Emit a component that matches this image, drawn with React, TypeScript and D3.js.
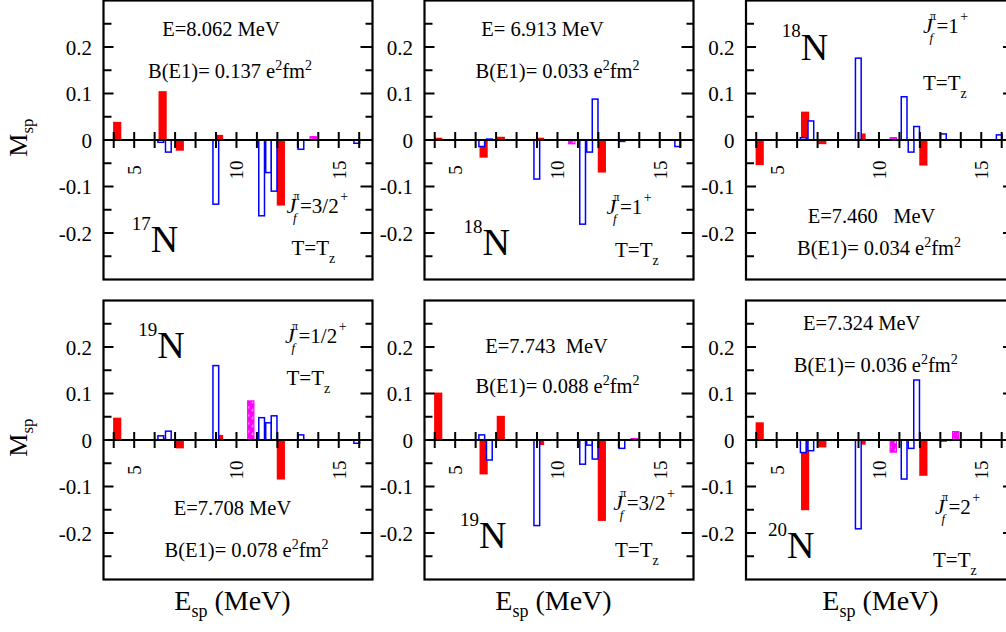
import React from 'react';
import * as d3 from 'd3';

// ---- data ----
// energies (MeV) of single-particle transitions, by colour group
const redE = [4.17, 6.39, 7.23, 9.15, 12.17];
const blueE = [6.3, 6.67, 8.99, 11.23, 11.57, 11.84, 13.15, 15.88];
const magE = [10.7, 13.75];

// M_sp values per panel
const n17Red = [0.039, 0.105, -0.023, 0.011, -0.141];
const n17Blue = [-0.005, -0.026, -0.138, -0.163, -0.07, -0.11, -0.02, -0.007];
const n17Mag = [0, 0.007];

const n18aRed = [0.005, -0.038, 0.007, 0.005, -0.07];
const n18aBlue = [-0.014, 0.002, -0.084, -0.181, -0.026, 0.088, -0.003, -0.014];
const n18aMag = [-0.008, 0];

const n18bRed = [-0.054, 0.061, -0.009, 0.014, -0.055];
const n18bBlue = [0.005, 0.041, 0.176, 0.093, -0.026, 0.029, 0.013, 0.011];
const n18bMag = [0.005, 0];

const n19aRed = [0.048, 0.004, -0.018, 0.011, -0.085];
const n19aBlue = [0.009, 0.019, 0.16, 0.048, 0.037, 0.052, 0.011, -0.007];
const n19aMag = [0.084, 0];

const n19bRed = [0.102, -0.074, 0.052, -0.011, -0.174];
const n19bBlue = [0.011, -0.043, -0.184, -0.052, -0.011, -0.041, -0.018, 0];
const n19bMag = [0, 0.003];

const n20Red = [0.038, -0.151, -0.016, -0.01, -0.077];
const n20Blue = [-0.027, -0.023, -0.191, -0.084, -0.018, 0.129, -0.002, 0];
const n20Mag = [-0.026, 0.018];

const stateEnergy = ['E=8.062 MeV', 'E= 6.913 MeV', 'E=7.460   MeV', 'E=7.708 MeV', 'E=7.743  MeV', 'E=7.324 MeV'];
const bE1 = ['0.137', '0.033', '0.034', '0.078', '0.088', '0.036'];
const massNumber = ['17', '18', '18', '19', '19', '20'];
const finalSpin = ['3/2', '1', '1', '1/2', '3/2', '2'];

const yTickLabels = [-0.2, -0.1, 0, 0.1, 0.2];
const xTickLabels = [5, 10, 15];

// ---- tables built from the arrays ----
const reds = [n17Red, n18aRed, n18bRed, n19aRed, n19bRed, n20Red];
const blues = [n17Blue, n18aBlue, n18bBlue, n19aBlue, n19bBlue, n20Blue];
const mags = [n17Mag, n18aMag, n18bMag, n19aMag, n19bMag, n20Mag];

// ---- layout ----
const W = 269;
const H = 279;
const origins: [number, number][] = [
  [103.5, 0.5], [424.5, 0.5], [746, 0.5],
  [103.5, 300.5], [424.5, 300.5], [746, 300.5],
];
const annot = [
  { e: [117.5, 35.5], b: [126.5, 77], nuc: [28.2, 251.2, 21.7], j: [183, 212.5], t: [188, 254.5] },
  { e: [118, 35.5], b: [133, 77.5], nuc: [39, 254.5, 21.7], j: [182, 213.5], t: [190.5, 256] },
  { e: [125.5, 222.5], b: [133, 254.5], nuc: [35.7, 59.5, 23], j: [177, 32.5], t: [177, 89.5] },
  { e: [129, 214.5], b: [143, 256], nuc: [34.8, 57.8, 22], j: [181.5, 42.8], t: [183, 84.5] },
  { e: [122, 52.8], b: [133, 92.8], nuc: [35.5, 247.8, 22], j: [188.8, 209.5], t: [190.5, 256] },
  { e: [115.7, 29.5], b: [129.8, 71.2], nuc: [22, 257.8, 22], j: [189, 213.5], t: [187, 266.2] },
];

const FONT = '"Liberation Serif", "Times New Roman", Times, serif';
const RED = '#ff0000';
const BLUE = '#0000ff';
const MAG = '#ff00ff';

const x = d3.scaleLinear().domain([3.5, 16.65]).range([0, W]);
const y = d3.scaleLinear().domain([-0.3, 0.3]).range([H, 0]);

function barRect(e: number, v: number, hw: number) {
  const z = y(0);
  const yv = y(v);
  return {
    x: x(e - hw),
    width: x(e + hw) - x(e - hw),
    y: Math.min(yv, z),
    height: Math.abs(yv - z),
  };
}

function Panel({ i }: { i: number }) {
  const [ox, oy] = origins[i];
  const a = annot[i];
  const z = y(0);
  const yTicks = d3.range(-0.25, 0.2501, 0.05);
  const xTicks = d3.range(4, 17);
  return (
    <g transform={`translate(${ox},${oy})`}>
      {/* bars */}
      {reds[i].map((v, k) =>
        v === 0 ? null : <rect key={'r' + k} {...barRect(redE[k], v, 0.2)} fill={RED} />
      )}
      {mags[i].map((v, k) =>
        v === 0 ? null : (
          <rect key={'m' + k} {...barRect(magE[k], v, 0.15)} fill="url(#hatch)" stroke={MAG} strokeWidth={1.3} />
        )
      )}
      {blues[i].map((v, k) =>
        v === 0 ? null : (
          <rect key={'b' + k} {...barRect(blueE[k], v, 0.14)} fill="#fff" stroke={BLUE} strokeWidth={1.5} />
        )
      )}
      {/* zero line + ticks */}
      <line x1={0} x2={W} y1={z} y2={z} stroke="#000" strokeWidth={2} />
      {xTicks.map((t) => (
        <line key={'xt' + t} x1={x(t)} x2={x(t)} y1={z - 8} y2={z + 8} stroke="#000" strokeWidth={2} />
      ))}
      {xTickLabels.map((t) => (
        <text
          key={'xl' + t}
          transform={`translate(${x(t) + 7},${z + 30}) rotate(-90)`}
          textAnchor="middle"
          fontSize={19}
        >
          {t}
        </text>
      ))}
      {/* y ticks */}
      {yTicks.map((t, k) => {
        const major = Math.abs(t * 10 - Math.round(t * 10)) < 1e-6;
        return (
          <g key={'yt' + k}>
            <line x1={0} x2={major ? 10 : 8} y1={y(t)} y2={y(t)} stroke="#000" strokeWidth={2} />
            <line x1={W - (major ? 12 : 7)} x2={W} y1={y(t)} y2={y(t)} stroke="#000" strokeWidth={2} />
          </g>
        );
      })}
      {yTickLabels.map((t) => (
        <text key={'yl' + t} x={-11.5} y={y(t) + 7.5} textAnchor="end" fontSize={21}>
          {t === 0 ? '0' : t.toFixed(1)}
        </text>
      ))}
      {/* frame */}
      <rect x={0} y={0} width={W} height={H} fill="none" stroke="#000" strokeWidth={2.2} />
      {/* annotations */}
      <text x={a.e[0]} y={a.e[1]} textAnchor="middle" fontSize={20.5} style={{ whiteSpace: 'pre' }}>
        {stateEnergy[i]}
      </text>
      <text x={a.b[0]} y={a.b[1]} textAnchor="middle" fontSize={20.5}>
        {'B(E1)= ' + bE1[i] + ' e'}
        <tspan fontSize={14} dy={-8}>2</tspan>
        <tspan dy={8}>fm</tspan>
        <tspan fontSize={14} dy={-8}>2</tspan>
      </text>
      <text x={a.nuc[0]} y={a.nuc[1]} fontSize={38}>
        <tspan fontSize={19} dy={-a.nuc[2]}>{massNumber[i]}</tspan>
        <tspan dy={a.nuc[2]}>N</tspan>
      </text>
      <text x={a.j[0]} y={a.j[1]} fontSize={21}>
        <tspan fontSize={22} fontStyle="italic">J</tspan>
        <tspan fontSize={12} dx={-2.8} dy={-13}>π</tspan>
        <tspan fontSize={13} fontStyle="italic" dx={-6.6} dy={22}>f</tspan>
        <tspan dx={3.4} dy={-9}>{'=' + finalSpin[i]}</tspan>
        <tspan fontSize={14} dx={1.5} dy={-12}>+</tspan>
      </text>
      <text x={a.t[0]} y={a.t[1]} fontSize={21}>
        T=T
        <tspan fontSize={14} dy={8}>z</tspan>
      </text>
    </g>
  );
}

export default function App() {
  const rowsMid = [137.5, 437.5];
  const colsMid = [232.5, 553.5, 880.5];
  return (
    <svg
      width={1006}
      height={632}
      style={{ position: 'absolute', left: 0, top: 0, display: 'block' }}
      fontFamily={FONT}
    >
      <defs>
        <pattern id="hatch" patternUnits="userSpaceOnUse" width={7} height={8}>
          <rect width={7} height={8} fill={MAG} />
          <line x1={2} y1={6.5} x2={5} y2={2} stroke="#fff" strokeWidth={1.8} />
        </pattern>
      </defs>
      <rect x={0} y={0} width={1006} height={632} fill="#fff" />
      {origins.map((_, i) => (
        <Panel key={i} i={i} />
      ))}
      {rowsMid.map((m, k) => (
        <text key={'ml' + k} transform={`translate(27,${m}) rotate(-90)`} textAnchor="middle" fontSize={26}>
          M<tspan fontSize={17} dy={6}>sp</tspan>
        </text>
      ))}
      {colsMid.map((c, k) => (
        <text key={'el' + k} x={c} y={610} textAnchor="middle" fontSize={28}>
          E<tspan fontSize={18} dy={7}>sp</tspan>
          <tspan dy={-7}>{' (MeV)'}</tspan>
        </text>
      ))}
    </svg>
  );
}
